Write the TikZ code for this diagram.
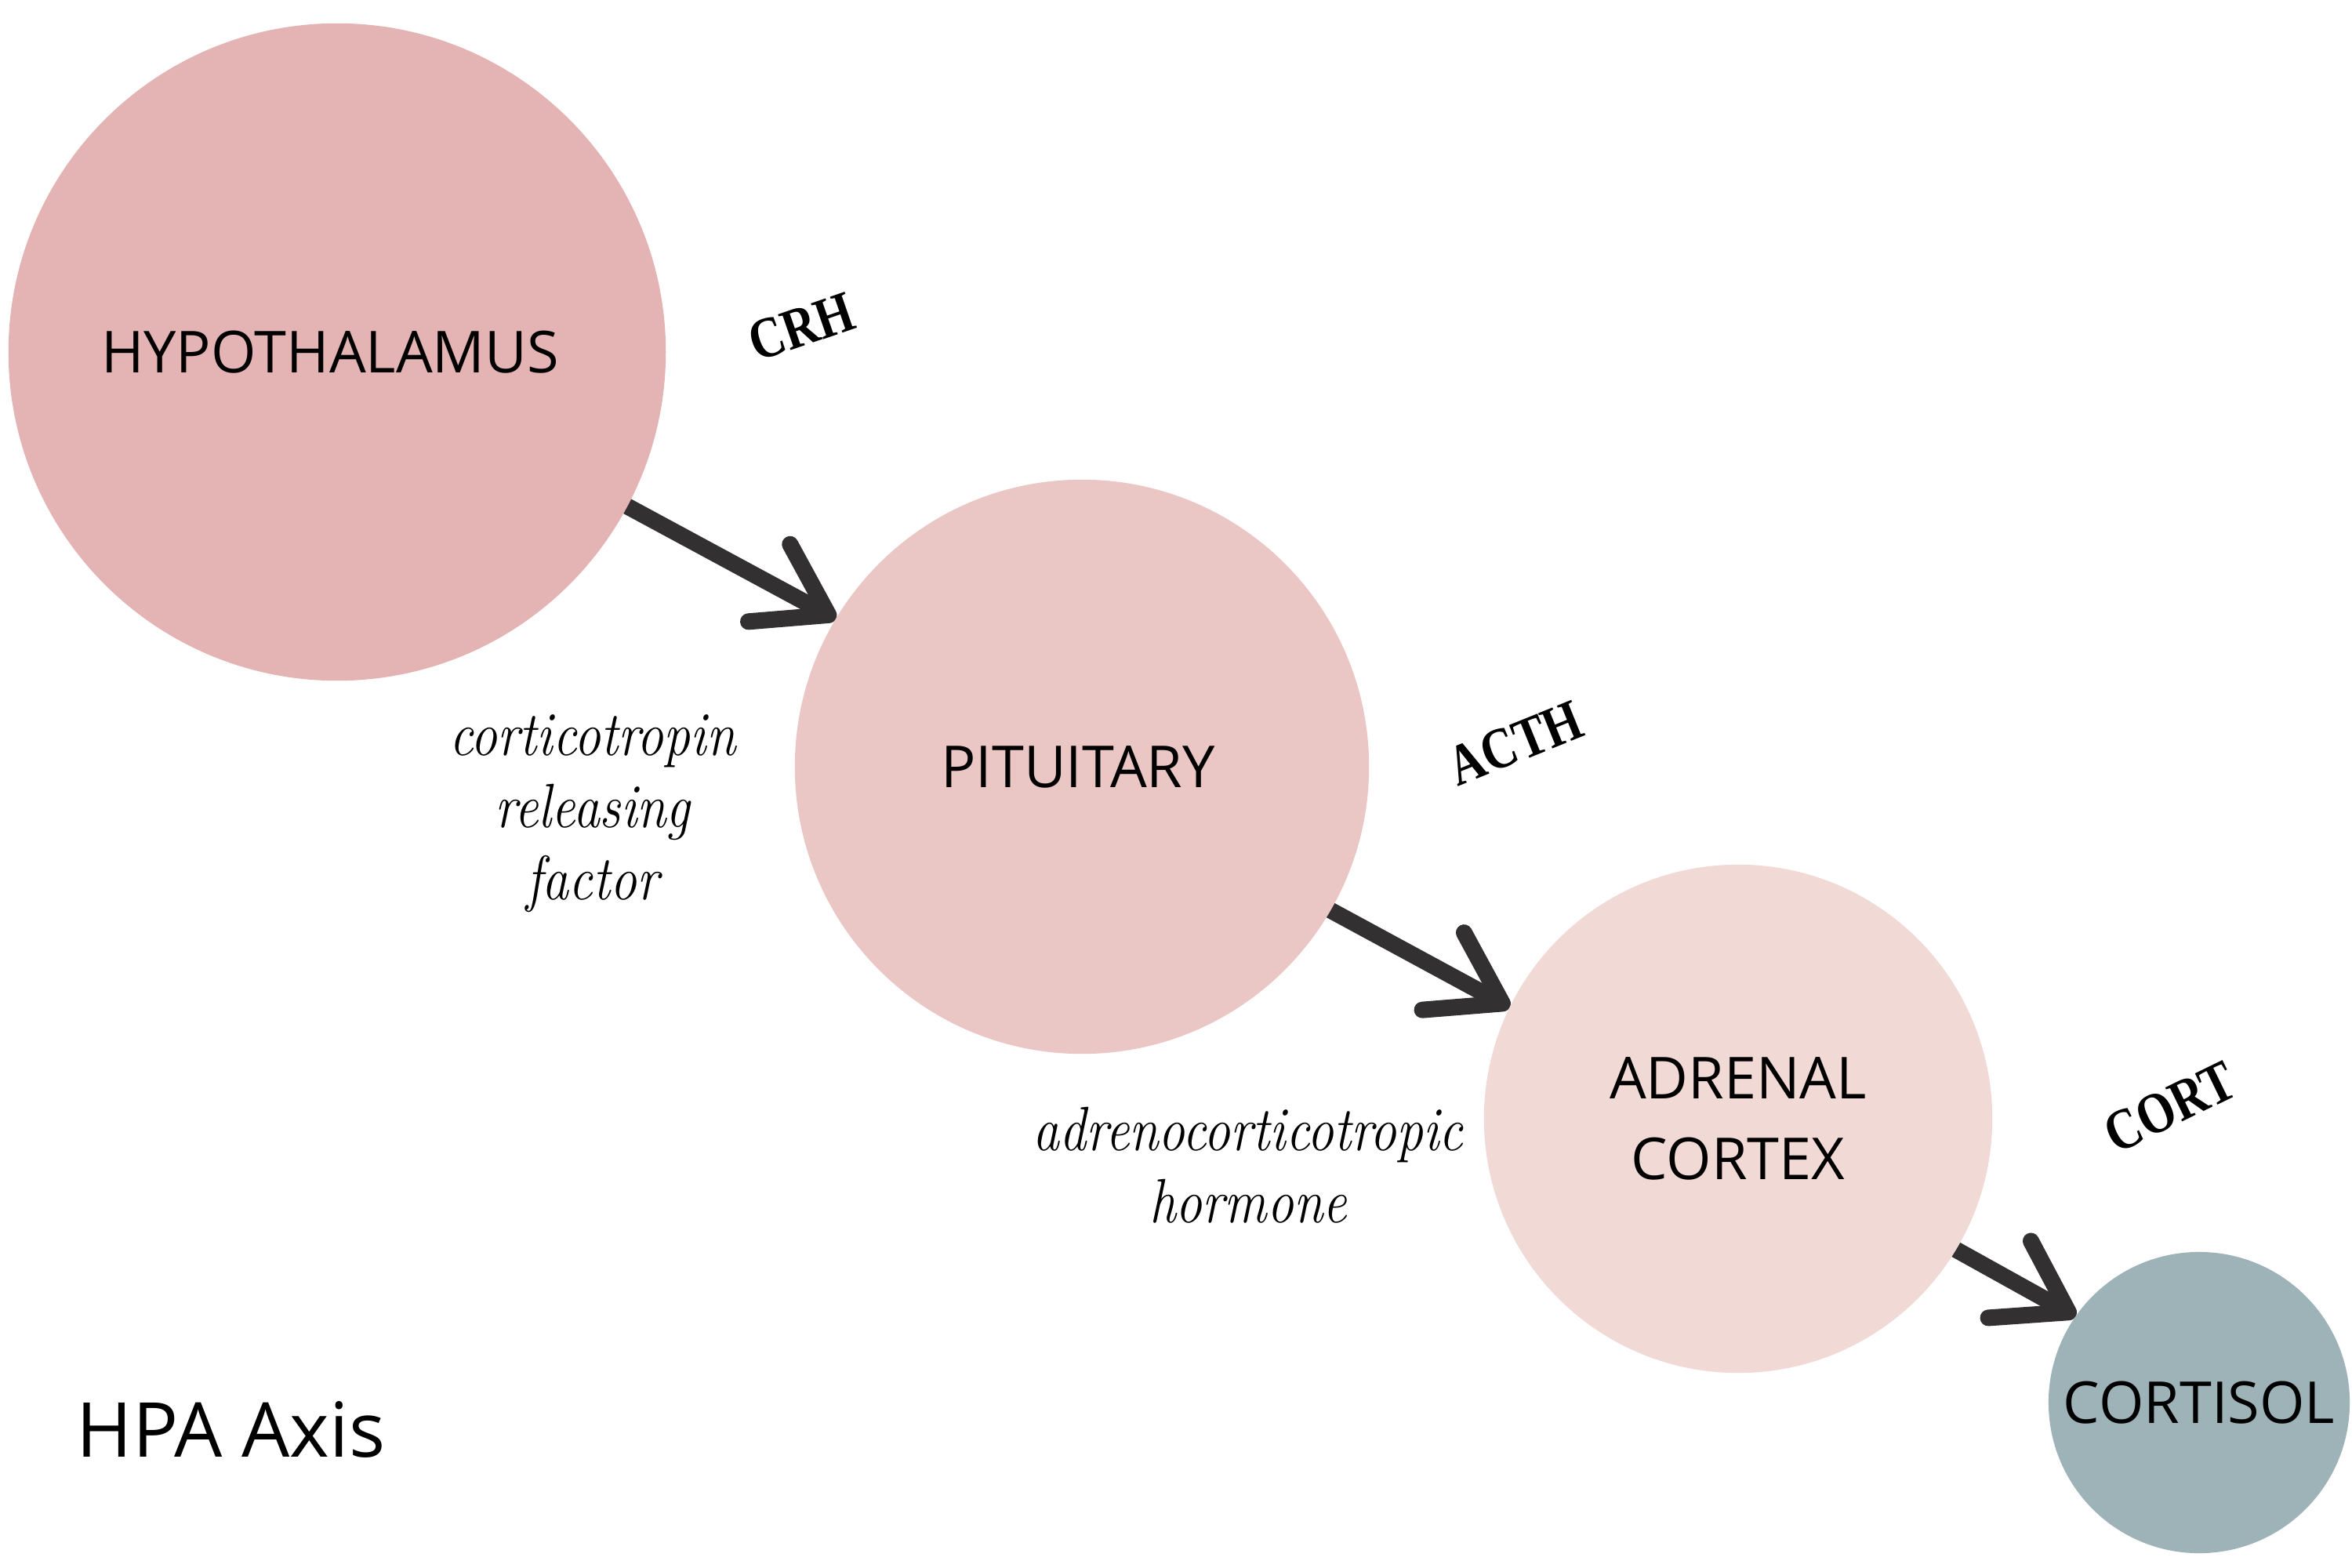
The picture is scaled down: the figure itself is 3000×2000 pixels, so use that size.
\documentclass[tikz,border=0pt]{standalone}
\usepackage{fontspec}
\setsansfont{Open Sans}
\newfontfamily\abbrfont{Liberation Serif}
\usetikzlibrary{arrows.meta,backgrounds}
\definecolor{hypc}{HTML}{E3B4B3}
\definecolor{pitc}{HTML}{EAC6C5}
\definecolor{adrc}{HTML}{F1D9D6}
\definecolor{corc}{HTML}{9EB3B8}
\definecolor{arrowc}{HTML}{323031}
\newcommand{\narrowit}[1]{\scalebox{0.85}[1]{#1}}
\newcommand{\narrowbf}[1]{\scalebox{0.83}[1]{#1}}
\begin{document}
\begin{tikzpicture}[x=0.01cm,y=-0.01cm,
  organ/.style={circle, inner sep=0pt, outer sep=0pt, align=center,
    font=\sffamily\fontsize{21}{29.5}\selectfont, text=black},
  hormone/.style={align=center, inner sep=0pt,
    font=\itshape\fontsize{22.7}{26.2}\selectfont},
  abbr/.style={inner sep=0pt,
    font=\abbrfont\bfseries\fontsize{21}{24}\selectfont},
  flow/.style={draw=arrowc, line width=0.21cm, line cap=round, line join=round,
    -{Straight Barb[length=0.86cm,width=1.12cm,round]}}
]
\useasboundingbox (0,0) rectangle (3000,2000);

\node[organ, fill=hypc, minimum size=8.38cm] (hyp) at (430,449) {\hspace*{-0.18cm}HYPOTHALAMUS};
\node[organ, fill=pitc, minimum size=7.32cm] (pit) at (1380,978) {\hspace*{-0.1cm}PITUITARY};
\node[organ, fill=adrc, minimum size=6.48cm] (adr) at (2217,1427) {ADRENAL\\CORTEX};
\node[organ, fill=corc, minimum size=3.84cm] (cor) at (2805,1789) {CORTISOL};

\node[hormone] (crf) at (756,1038)
  {\narrowit{corticotropin}\\\narrowit{releasing}\\\narrowit{factor}};
\node[hormone] (acthlong) at (1592,1486)
  {\narrowit{adrenocorticotropic}\\\narrowit{hormone}};

\node[abbr, rotate=19] (crh) at (1022,417) {\narrowbf{CRH}};
\node[abbr, rotate=22] (acth) at (1933,948) {\narrowbf{ACTH}};
\node[abbr, rotate=26] (cort) at (2768,1412) {\narrowbf{CORT}};

\node[inner sep=0pt, anchor=base west, font=\sffamily\fontsize{27.5}{33}\selectfont] (title) at (97,1858) {HPA Axis};

\begin{scope}[on background layer]
  \fill[white] (0,0) rectangle (3000,2000);
  \draw[flow] (hyp.-28.7) -- (pit.149.3);
  \draw[flow] (pit.-30.9) -- (adr.154.1);
  \draw[flow] (adr.-31.7) -- (cor.145.7);
\end{scope}
\end{tikzpicture}
\end{document}
